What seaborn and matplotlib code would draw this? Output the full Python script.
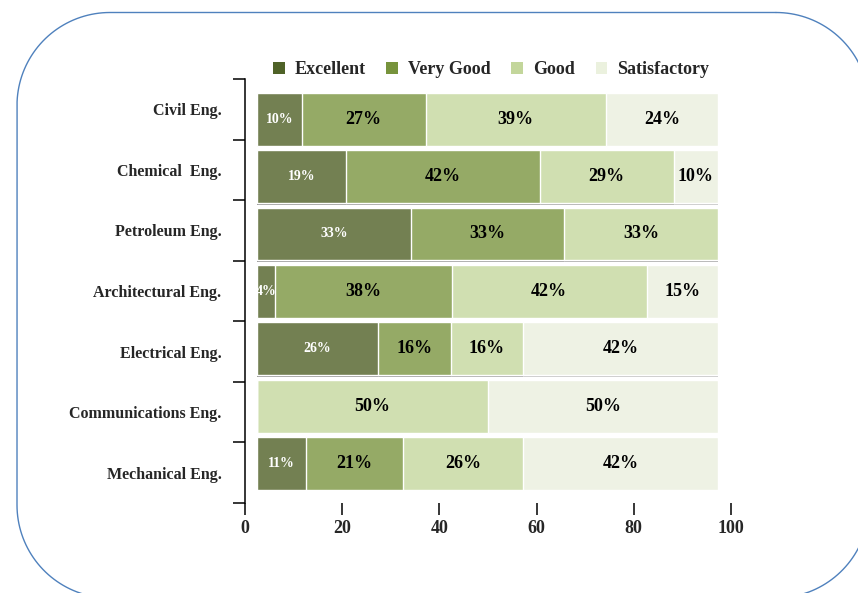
import matplotlib
matplotlib.use("Agg")
import matplotlib.pyplot as plt
import matplotlib.patheffects as pe
from matplotlib.patches import Patch
import numpy as np
import pandas as pd
import seaborn as sns

# --- data (percent of students per grade) ---
majors = ["Civil Eng.", "Chemical  Eng.", "Petroleum Eng.", "Architectural Eng.",
          "Electrical Eng.", "Communications Eng.", "Mechanical Eng."]
grades = ["Excellent", "Very Good", "Good", "Satisfactory"]
excellent = [9.7, 19.3, 33.4, 3.8, 26.2, 0.0, 10.6]
very_good = [26.9, 42.0, 33.3, 38.4, 15.8, 0.0, 21.0]
good = [39.1, 29.1, 33.3, 42.4, 15.8, 50.0, 26.2]
satisfactory = [24.3, 9.6, 0.0, 15.4, 42.2, 50.0, 42.2]
x_ticks = [0, 20, 40, 60, 80, 100]

legend_colors = ["#4f6228", "#77933c", "#c3d69b", "#ebf1de"]
bar_colors = ["#738052", "#95aa66", "#d0dfb1", "#eef2e4"]

sns.set_theme(style="ticks")
plt.rcParams["font.family"] = ["Liberation Serif", "DejaVu Serif"]
plt.rcParams["font.weight"] = "bold"

W, H = 858, 593
fig = plt.figure(figsize=(W / 100, H / 100), dpi=100)


def px_axes(l, t, r, b):
    # axes placed by pixel box (left, top, right, bottom)
    return fig.add_axes([l / W, 1 - b / H, (r - l) / W, (b - t) / H])


# background layer in pixel coords for the rounded blue frame
bg = fig.add_axes([0, 0, 1, 1], zorder=-1)
bg.set_xlim(0, W)
bg.set_ylim(H, 0)
bg.axis("off")


def rounded_rect(x0, y0, x1, y1, r, n=40):
    pts = []
    corners = [(x1 - r, y0 + r, -90), (x1 - r, y1 - r, 0),
               (x0 + r, y1 - r, 90), (x0 + r, y0 + r, 180)]
    for cx, cy, a0 in corners:
        th = np.radians(np.linspace(a0, a0 + 90, n))
        pts.append(np.column_stack([cx + r * np.cos(th), cy + r * np.sin(th)]))
    pts = np.vstack(pts + [pts[0][:1]])
    return pts[:, 0], pts[:, 1]


fx, fy = rounded_rect(17, 12.5, 869, 598, 93)
bg.plot(fx, fy, color="#4f81bd", lw=1.0, clip_on=False)

ax2 = px_axes(245, 79, 731, 503)   # axis frame with ticks / labels
ax = px_axes(257, 92.7, 718, 490)  # plot area holding the bars

df = pd.DataFrame({"major": majors, "Excellent": excellent, "Very Good": very_good,
                   "Good": good, "Satisfactory": satisfactory})
cum = df[grades].cumsum(axis=1)
cum["major"] = majors

# stacked bars: draw cumulative totals from the outside in
for g, c in reversed(list(zip(grades, bar_colors))):
    sns.barplot(data=cum, x=g, y="major", orient="h", color=c, saturation=1,
                width=0.92, errorbar=None, ax=ax)

for p in ax.patches:
    p.set_path_effects([pe.SimplePatchShadow(offset=(0, -1.2), shadow_rgbFace="#808080",
                                             alpha=0.45), pe.Normal()])

for j, g in enumerate(grades):
    left = cum[g] - df[g]
    for i, v in enumerate(df[g]):
        if v <= 0:
            continue
        if j == 0:
            ax.text(left[i] + v / 2, i, f"{v:.0f}%", ha="center", va="center",
                    color="white", fontsize=10, fontweight="bold")
        else:
            ax.text(left[i] + v / 2, i, f"{v:.0f}%", ha="center", va="center",
                    color="black", fontsize=13, fontweight="bold")

ax.set_xlim(0, 100)
ax.set_ylim(len(majors) - 1 + 0.46, -0.46)
ax.axis("off")

# frame axis
ax2.patch.set_visible(False)
ax2.set_xlim(0, 100)
ax2.set_ylim(len(majors), 0)
ax2.set_xticks(x_ticks)
ax2.set_xticklabels([str(t) for t in x_ticks], fontsize=13, fontweight="bold")
ax2.set_yticks(np.arange(len(majors)) + 0.5)
ax2.set_yticklabels(majors, fontsize=11.5, fontweight="bold")
ax2.set_yticks(np.arange(len(majors) + 1), minor=True)
ax2.tick_params(axis="y", which="major", length=0, pad=17, left=True)
ax2.tick_params(axis="y", which="minor", length=8.6, width=1.1, color="black",
                direction="out", left=True)
ax2.tick_params(axis="x", which="major", length=8.6, width=1.1, color="black",
                direction="out", pad=3.5, bottom=True)
ax2.tick_params(axis="x", which="minor", bottom=False)
for s in ["top", "right", "bottom"]:
    ax2.spines[s].set_visible(False)
ax2.spines["left"].set_linewidth(1.1)
ax2.spines["left"].set_color("black")

handles = [Patch(facecolor=c, edgecolor="none") for c in legend_colors]
fig.legend(handles, grades, ncol=4, loc="center", bbox_to_anchor=(491 / W, 1 - 70 / H),
           frameon=False, handlelength=0.65, handleheight=0.65, handletextpad=0.55,
           columnspacing=1.15, prop={"size": 13, "weight": "bold"})

fig.savefig("out.png", dpi=100)
